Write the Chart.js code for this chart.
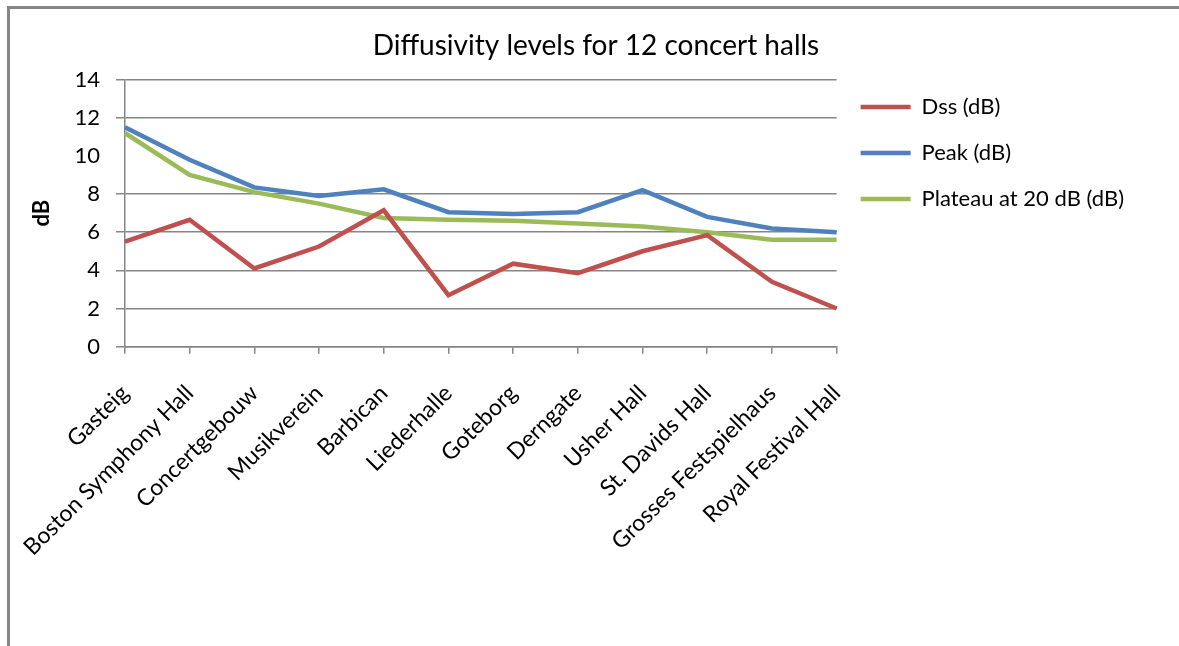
<!DOCTYPE html>
<html><head><meta charset="utf-8">
<script src="https://cdn.jsdelivr.net/npm/chart.js@4"></script>
<style>
html,body{margin:0;padding:0;background:#fff;overflow:hidden;}
#wrap{position:relative;width:1179px;height:646px;overflow:hidden;}
.fl{position:absolute;background:#868686;pointer-events:none;}
#ftop{left:7px;top:6px;width:1172px;height:3px;}
#fleft{left:7px;top:6px;width:3px;height:640px;}
canvas{position:absolute;left:0;top:0;}
</style></head><body>
<div id="wrap"><canvas id="c" width="1179" height="646"></canvas><div class="fl" id="ftop"></div><div class="fl" id="fleft"></div></div>
<script>
const categories = ['Gasteig','Boston Symphony Hall','Concertgebouw','Musikverein','Barbican','Liederhalle','Goteborg','Derngate','Usher Hall','St. Davids Hall','Grosses Festspielhaus','Royal Festival Hall'];
const dss     = [5.5, 6.65, 4.1, 5.25, 7.15, 2.7, 4.35, 3.85, 5.0, 5.85, 3.4, 2.0];
const peak    = [11.5, 9.8, 8.35, 7.9, 8.25, 7.05, 6.95, 7.05, 8.2, 6.8, 6.2, 6.0];
const plateau = [11.2, 9.0, 8.1, 7.5, 6.75, 6.65, 6.6, 6.45, 6.3, 6.0, 5.6, 5.6];
const seriesNames = ['Dss (dB)', 'Peak (dB)', 'Plateau at 20 dB (dB)'];
const yMin = 0, yMax = 14, yStep = 2;

const FONT = 'Lato, "Open Sans", sans-serif';
const GRID = '#868686';

function ds(label, data, color) {
  return {label, data, borderColor: color, backgroundColor: color, borderWidth: 4.5,
    pointRadius: 0, pointHoverRadius: 0, pointStyle: 'line', tension: 0, fill: false};
}

new Chart(document.getElementById('c'), {
  type: 'line',
  data: {
    labels: categories,
    datasets: [
      ds(seriesNames[0], dss, '#C0504D'),
      ds(seriesNames[1], peak, '#4F81BD'),
      ds(seriesNames[2], plateau, '#9BBB59')
    ]
  },
  options: {
    responsive: false,
    animation: false,
    layout: {padding: {left: 58, right: 45, top: 0, bottom: 59}},
    font: {family: FONT},
    plugins: {
      title: {display: true, text: 'Diffusivity levels for 12 concert halls', color: '#000',
        font: {family: FONT, size: 28, weight: 'normal'}, padding: {top: 29, bottom: 17}},
      legend: {position: 'right', align: 'start', fullSize: false, maxWidth: 400,
        title: {display: true, text: ' ', font: {size: 10}, padding: {top: -19.5, bottom: 0}},
        labels: {usePointStyle: true, pointStyle: 'line', pointStyleWidth: 50, padding: 24,
          color: '#000', font: {family: FONT, size: 22}}},
      tooltip: {enabled: false}
    },
    scales: {
      x: {
        offset: false,
        grid: {display: true, drawOnChartArea: false, drawTicks: true, tickLength: 7, color: GRID, offset: false, lineWidth: 1.5},
        border: {display: true, color: GRID, width: 1.5},
        ticks: {maxRotation: 45, minRotation: 45, color: '#000', font: {family: FONT, size: 23}, padding: 26, autoSkip: false}
      },
      y: {
        min: yMin, max: yMax,
        ticks: {stepSize: yStep, color: '#000', font: {family: FONT, size: 22}, padding: 16},
        grid: {color: c => (c.tick && c.tick.value === 10) ? 'rgba(0,0,0,0)' : GRID, tickLength: 9, lineWidth: 1.5},
        border: {display: true, color: GRID, width: 1.5},
        title: {display: true, text: 'dB', color: '#000', font: {family: FONT, size: 22, weight: 'bold'}, padding: {top: -29, bottom: 3}}
      }
    }
  }
});
</script>
</body></html>
